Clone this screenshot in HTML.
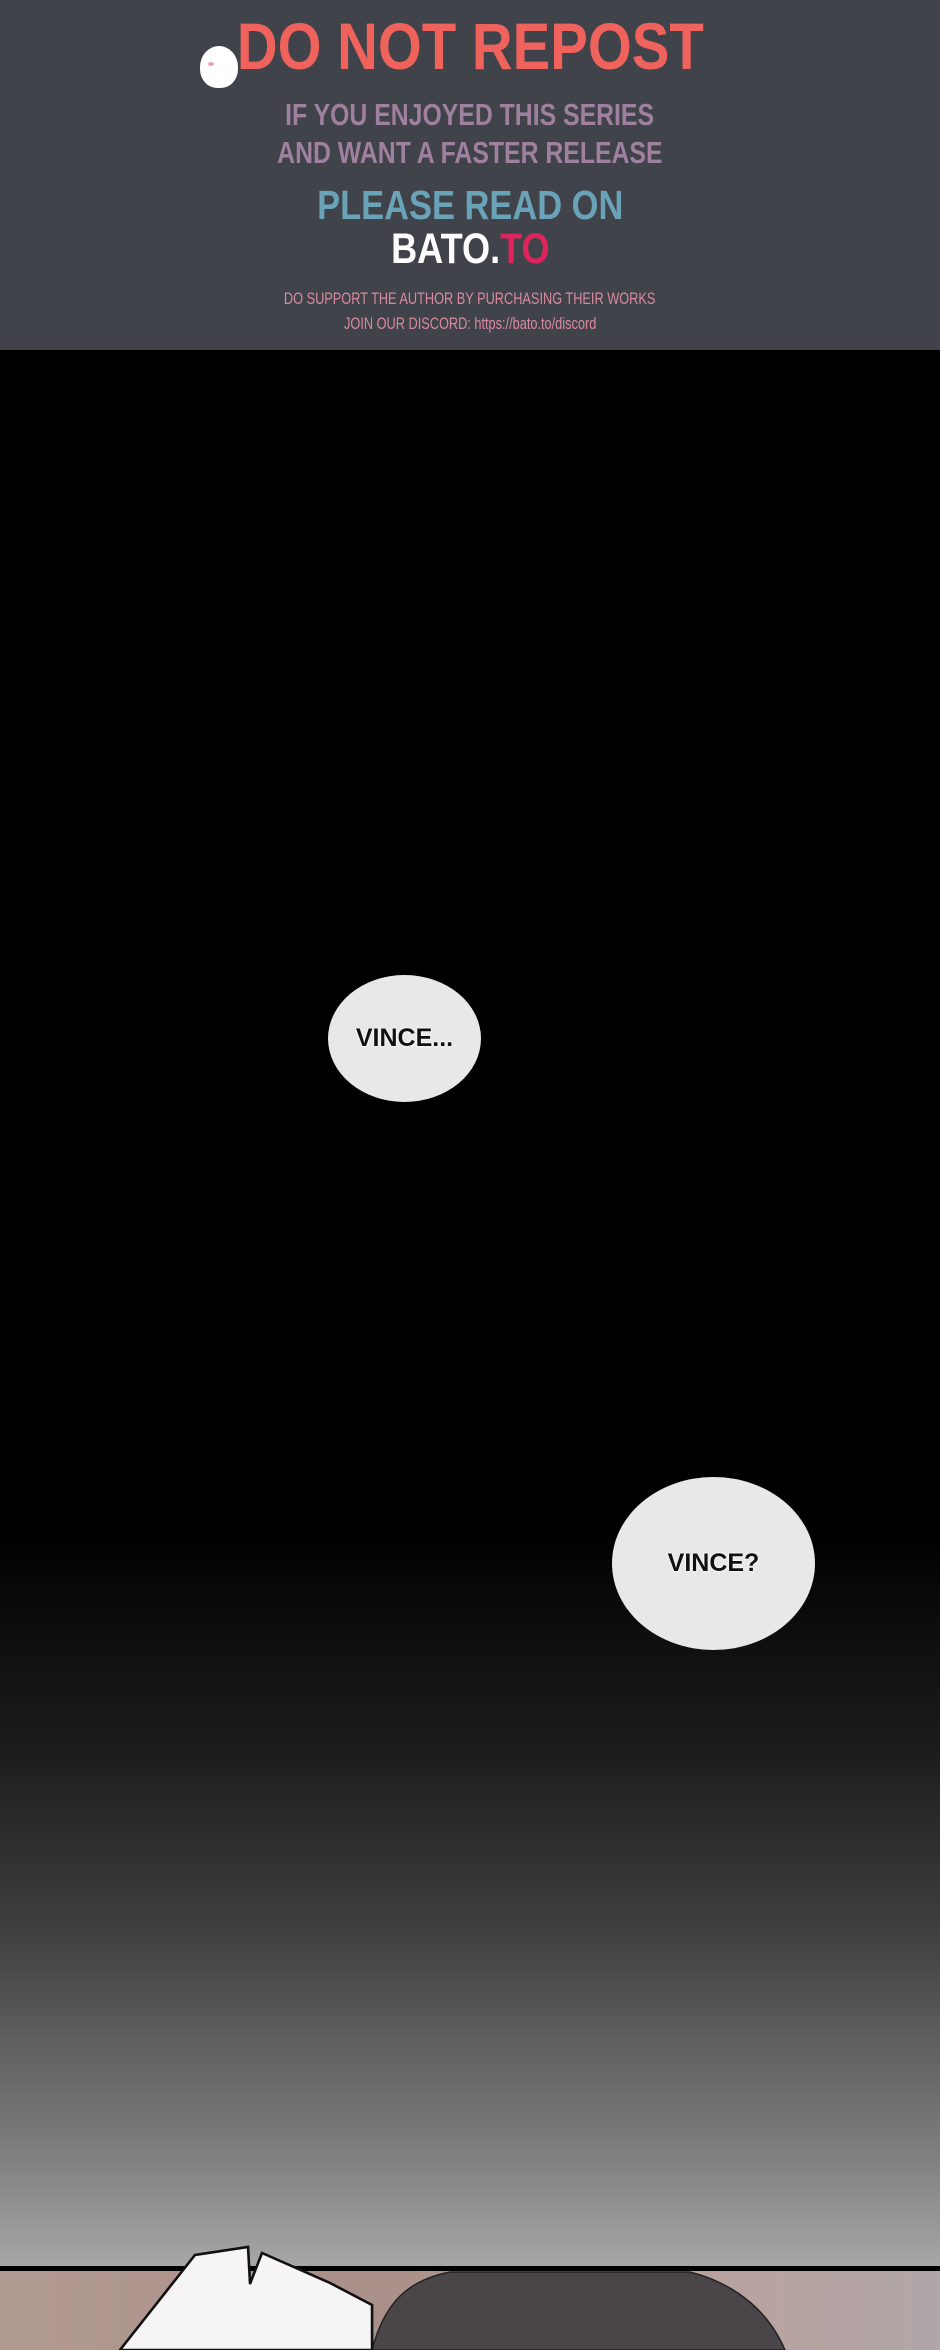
<!DOCTYPE html>
<html><head><meta charset="utf-8"><style>
*{margin:0;padding:0;box-sizing:border-box}
body{width:940px;height:2350px;position:relative;overflow:hidden;background:#000;font-family:"Liberation Sans",sans-serif}
.banner{position:absolute;left:0;top:0;width:940px;height:350px;background:#40434a}
.t{position:absolute;left:0;width:940px;text-align:center;font-weight:bold;white-space:nowrap}
.t span.s{display:inline-block}
.grad{position:absolute;left:0;top:350px;width:940px;height:1917px;background:linear-gradient(to bottom,#000 0px,#000 1180px,#101010 1300px,#1c1c1c 1400px,#404040 1584px,#606060 1696px,#808080 1808px,#a7a7a7 1917px)}
.bub{position:absolute;background:#e8e8e8;border-radius:50%;display:flex;align-items:center;justify-content:center;font-weight:bold;color:#111;font-size:25px;text-shadow:0 0 2px #fff,0 0 2px #fff}
</style></head><body>
<div class="banner"></div>
<div class="t" style="top:12px;font-size:60px;color:#f0625c"><span class="s" style="transform:scale(0.94,1.1)">DO NOT REPOST</span></div>
<div style="position:absolute;left:200px;top:46px;width:38px;height:42px;background:#fff;border-radius:50% 50% 45% 45%;"></div>
<div style="position:absolute;left:208px;top:62px;width:6px;height:4px;background:#f3a0b0;border-radius:50%"></div>
<div class="t" style="top:97px;font-size:31px;color:#a0809f"><span class="s" style="transform:scaleX(0.8)">IF YOU ENJOYED THIS SERIES</span></div>
<div class="t" style="top:135px;font-size:31px;color:#a0809f"><span class="s" style="transform:scaleX(0.8)">AND WANT A FASTER RELEASE</span></div>
<div class="t" style="top:182px;font-size:41px;color:#6aa3b8"><span class="s" style="transform:scaleX(0.84)">PLEASE READ ON</span></div>
<div class="t" style="top:225px;font-size:43px;color:#fff"><span class="s" style="transform:scaleX(0.84)">BATO.<span style="color:#e0245e">TO</span></span></div>
<div class="t" style="top:289px;font-size:17px;color:#d88aa0;font-weight:normal"><span class="s" style="transform:scaleX(0.75)">DO SUPPORT THE AUTHOR BY PURCHASING THEIR WORKS</span></div>
<div class="t" style="top:314px;font-size:17px;color:#d88aa0;font-weight:normal"><span class="s" style="transform:scaleX(0.75)">JOIN OUR DISCORD: https://bato.to/discord</span></div>
<div class="grad"></div>
<div class="bub" style="left:328px;top:975px;width:153px;height:127px">VINCE...</div>
<div class="bub" style="left:612px;top:1477px;width:203px;height:173px">VINCE?</div>
<div style="position:absolute;left:0;top:2271px;width:940px;height:79px;background:linear-gradient(to right,#b19a92,#a99088 40%,#b9a3a0 80%,#b0a6a8)"></div>
<svg style="position:absolute;left:0;top:2200px" width="940" height="150">
<path d="M372 150 C385 100,410 80,450 72 L690 72 C740 85,770 115,785 150 Z" fill="#4a4548" stroke="#222" stroke-width="1.5"/>
<path d="M120 150 L195 55 L248 47 L250 84 L262 53 L330 83 L372 105 L372 150 Z" fill="#f6f4f4" stroke="#111" stroke-width="2.5"/>
</svg>
<div style="position:absolute;left:0;top:2266px;width:940px;height:5px;background:#000"></div>
<svg style="position:absolute;left:0;top:2200px" width="940" height="150">
<path d="M195 55 L248 47 L250 84 L262 53 L330 83 L372 105 L372 150 L120 150 Z" fill="#f6f4f4" stroke="#111" stroke-width="2.5"/>
</svg>
</body></html>
